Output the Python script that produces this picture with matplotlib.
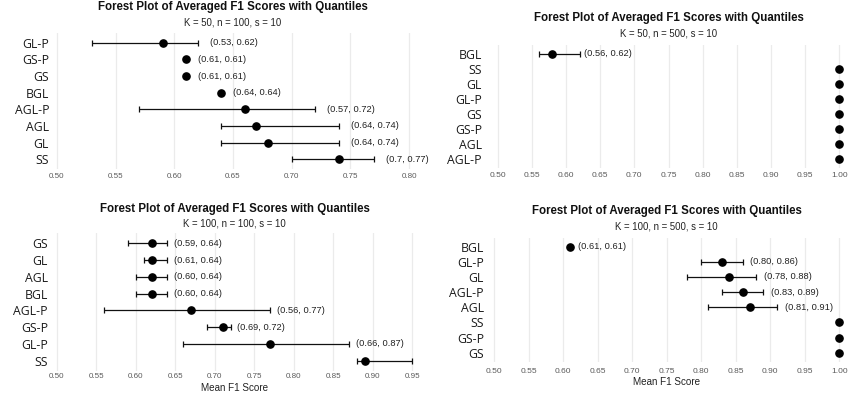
import matplotlib
matplotlib.use("Agg")
import matplotlib.pyplot as plt

W, H = 849, 401

# ---------------- data ----------------
title = "Forest Plot of Averaged F1 Scores with Quantiles"

tl_sub = "K = 50, n = 100, s = 10"
tl_methods = ["GL-P", "GS-P", "GS", "BGL", "AGL-P", "AGL", "GL", "SS"]
tl_mean = [0.59, 0.61, 0.61, 0.64, 0.66, 0.67, 0.68, 0.74]
tl_lo = [0.53, 0.61, 0.61, 0.64, 0.57, 0.64, 0.64, 0.70]
tl_hi = [0.62, 0.61, 0.61, 0.64, 0.72, 0.74, 0.74, 0.77]
tl_lab = ["(0.53, 0.62)", "(0.61, 0.61)", "(0.61, 0.61)", "(0.64, 0.64)",
          "(0.57, 0.72)", "(0.64, 0.74)", "(0.64, 0.74)", "(0.7, 0.77)"]
tl_ticks = [0.50, 0.55, 0.60, 0.65, 0.70, 0.75, 0.80]

tr_sub = "K = 50, n = 500, s = 10"
tr_methods = ["BGL", "SS", "GL", "GL-P", "GS", "GS-P", "AGL", "AGL-P"]
tr_mean = [0.58, 1.00, 1.00, 1.00, 1.00, 1.00, 1.00, 1.00]
tr_lo = [0.56, 1.00, 1.00, 1.00, 1.00, 1.00, 1.00, 1.00]
tr_hi = [0.62, 1.00, 1.00, 1.00, 1.00, 1.00, 1.00, 1.00]
tr_lab = ["(0.56, 0.62)", "", "", "", "", "", "", ""]
tr_ticks = [0.50, 0.55, 0.60, 0.65, 0.70, 0.75, 0.80, 0.85, 0.90, 0.95, 1.00]

bl_sub = "K = 100, n = 100, s = 10"
bl_methods = ["GS", "GL", "AGL", "BGL", "AGL-P", "GS-P", "GL-P", "SS"]
bl_mean = [0.62, 0.62, 0.62, 0.62, 0.67, 0.71, 0.77, 0.89]
bl_lo = [0.59, 0.61, 0.60, 0.60, 0.56, 0.69, 0.66, 0.88]
bl_hi = [0.64, 0.64, 0.64, 0.64, 0.77, 0.72, 0.87, 0.95]
bl_lab = ["(0.59, 0.64)", "(0.61, 0.64)", "(0.60, 0.64)", "(0.60, 0.64)",
          "(0.56, 0.77)", "(0.69, 0.72)", "(0.66, 0.87)", ""]
bl_ticks = [0.50, 0.55, 0.60, 0.65, 0.70, 0.75, 0.80, 0.85, 0.90, 0.95]

br_sub = "K = 100, n = 500, s = 10"
br_methods = ["BGL", "GL-P", "GL", "AGL-P", "AGL", "SS", "GS-P", "GS"]
br_mean = [0.61, 0.83, 0.84, 0.86, 0.87, 1.00, 1.00, 1.00]
br_lo = [0.61, 0.80, 0.78, 0.83, 0.81, 1.00, 1.00, 1.00]
br_hi = [0.61, 0.86, 0.88, 0.89, 0.91, 1.00, 1.00, 1.00]
br_lab = ["(0.61, 0.61)", "(0.80, 0.86)", "(0.78, 0.88)", "(0.83, 0.89)",
          "(0.81, 0.91)", "", "", ""]
br_ticks = tr_ticks

xlabel = "Mean F1 Score"

# ---------------- drawing ----------------
fig = plt.figure(figsize=(W / 100, H / 100), dpi=100)
fig.patch.set_facecolor("white")

SANS = ["Liberation Sans", "DejaVu Sans"]
YFONT = ["Open Sans", "DejaVu Sans"]


def panel(px, xlim, sub, methods, mean, lo, hi, labs, ticks, text_off,
          ypad, xpad, title_y, sub_y, tick_fs, xlab=None, xlab_pad=0):
    x0, x1, y0, y1 = px  # pixel box (top y0, bottom y1)
    ax = fig.add_axes([x0 / W, 1 - y1 / H, (x1 - x0) / W, (y1 - y0) / H])
    n = len(methods)
    ypos = list(range(n))
    ax.set_xlim(*xlim)
    ax.set_ylim(n - 1 + 0.6, -0.6)
    for s in ax.spines.values():
        s.set_visible(False)
    ax.set_xticks(ticks)
    ax.set_xticklabels([f"{t:.2f}" for t in ticks])
    ax.set_yticks(ypos)
    ax.set_yticklabels(methods)
    ax.tick_params(axis="x", length=0, labelsize=tick_fs, colors="#5a5a5a",
                   pad=xpad)
    ax.tick_params(axis="y", length=0, labelsize=8.8, colors="#1a1a1a",
                   pad=ypad)
    for lab in ax.get_xticklabels():
        lab.set_family(SANS)
    for lab in ax.get_yticklabels():
        lab.set_family(YFONT)
    ax.grid(axis="x", color="#EBEBEB", linewidth=0.9)
    ax.set_axisbelow(True)
    err_lo = [m - l for m, l in zip(mean, lo)]
    err_hi = [h - m for m, h in zip(mean, hi)]
    ax.errorbar(mean, ypos, xerr=[err_lo, err_hi], fmt="none",
                ecolor="#111111", elinewidth=0.9, capsize=2.0,
                capthick=0.9, zorder=2)
    ax.plot(mean, ypos, "o", color="black", markersize=5.2, zorder=3,
            clip_on=False)
    for h, y, t in zip(hi, ypos, labs):
        if t:
            ax.annotate(t, (h, y), xytext=(text_off, 0),
                        textcoords="offset points", va="center", ha="left",
                        fontsize=6.7, color="#222222", family=SANS,
                        annotation_clip=False)
    cx = (x0 + x1) / 2 / W
    fig.text(cx, 1 - title_y / H, title, ha="center", va="center",
             fontsize=8.3, fontweight="bold", family=SANS, color="#111111")
    fig.text(cx, 1 - sub_y / H, sub, ha="center", va="center",
             fontsize=6.9, family=SANS, color="#222222")
    if xlab:
        ax.set_xlabel(xlab, fontsize=7.1, family=SANS, color="#222222",
                      labelpad=xlab_pad)
    return ax


panel((39.4, 426.6, 32.7, 169.3), (0.485, 0.815), tl_sub, tl_methods,
      tl_mean, tl_lo, tl_hi, tl_lab, tl_ticks, 8.6, -7.0, 2.5, 7.0, 22.3, 5.8)
panel((480.6, 856.4, 45.0, 168.0), (0.475, 1.025), tr_sub, tr_methods,
      tr_mean, tr_lo, tr_hi, tr_lab, tr_ticks, 3.3, -1.0, 3.2, 17.5, 34.0, 6.0)
panel((39.2, 430.0, 233.3, 370.8), (0.4775, 0.9725), bl_sub, bl_methods,
      bl_mean, bl_lo, bl_hi, bl_lab, bl_ticks, 4.7, -6.3, 1.5, 209.0, 224.0,
      5.8, xlab=xlabel, xlab_pad=2.0)
panel((477.0, 856.5, 237.6, 361.8), (0.475, 1.025), br_sub, br_methods,
      br_mean, br_lo, br_hi, br_lab, br_ticks, 5.4, -5.0, 4.5, 211.0, 226.7,
      6.0, xlab=xlabel, xlab_pad=1.5)

fig.savefig("out.png", dpi=100, facecolor="white")
